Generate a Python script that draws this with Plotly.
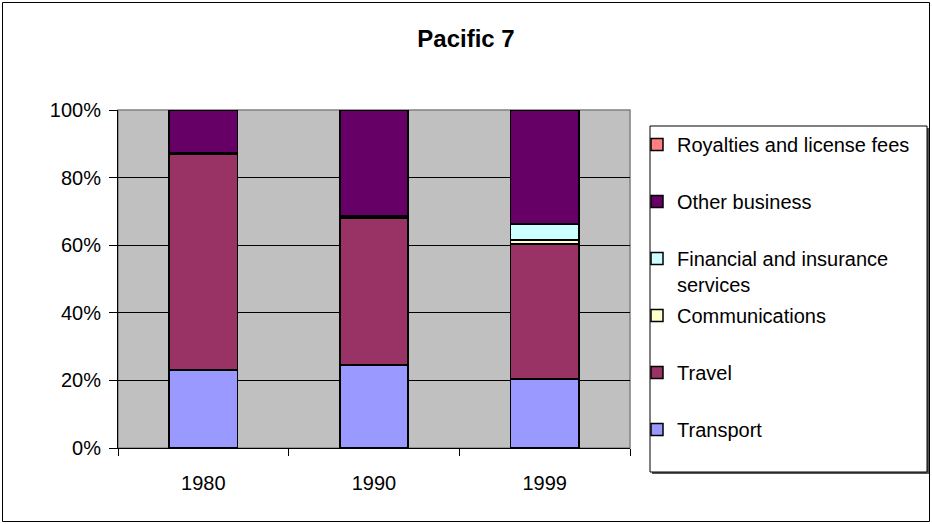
import plotly.graph_objs as go

years = ['1980', '1990', '1999']

transport = [23.1, 24.5, 20.4]
travel = [63.7, 43.4, 40.0]
communications = [0.3, 0.4, 1.2]
financial = [0.3, 0.3, 4.6]
other_business = [12.4, 31.2, 33.6]
royalties = [0.2, 0.2, 0.2]

y_ticks = [0, 20, 40, 60, 80, 100]
y_labels = ['0%', '20%', '40%', '60%', '80%', '100%']

# page geometry (pixels)
W, H = 932, 524
L, R, T, B = 118, 302, 110, 76
pw = W - L - R
ph = H - T - B


def fx(x):
    return (x - L) / pw


def fy(y):
    return (H - B - y) / ph


series = [
    ('Transport', transport, '#9999FF'),
    ('Travel', travel, '#993366'),
    ('Communications', communications, '#FFFFCC'),
    ('Financial and insurance<br>services', financial, '#CCFFFF'),
    ('Other business', other_business, '#660066'),
    ('Royalties and license fees', royalties, '#FF8080'),
]

fig = go.Figure()
for i, (name, vals, col) in enumerate(series):
    # every legend entry gets two lines so they are spaced evenly
    label = name if '<br>' in name else name + '<br> '
    fig.add_trace(go.Bar(
        x=years, y=vals, name=label, legendgroup=name,
        legendrank=len(series) - i,
        marker=dict(color=col, line=dict(color='black', width=1.5)),
    ))

fnt = 'Liberation Sans, Arial, sans-serif'

shapes = [
    # plot area border
    dict(type='rect', xref='paper', yref='paper', x0=0, x1=1, y0=0, y1=1,
         line=dict(color='#808080', width=1.5), layer='between'),
    # outer chart border
    dict(type='rect', xref='paper', yref='paper',
         x0=fx(2.5), x1=fx(929.5), y0=fy(521.5), y1=fy(2.5),
         line=dict(color='black', width=1)),
    # legend shadow + box
    dict(type='rect', xref='paper', yref='paper',
         x0=fx(652), x1=fx(929), y0=fy(474), y1=fy(128),
         line=dict(width=0), fillcolor='#555555'),
    dict(type='rect', xref='paper', yref='paper',
         x0=fx(650), x1=fx(927), y0=fy(472), y1=fy(126),
         line=dict(color='black', width=1), fillcolor='white'),
]

fig.update_layout(
    width=W, height=H,
    margin=dict(l=L, r=R, t=T, b=B, autoexpand=False),
    barmode='stack', barnorm='percent', bargap=0.6,
    paper_bgcolor='white', plot_bgcolor='#C0C0C0',
    font=dict(family=fnt, size=20, color='black'),
    title=dict(text='<b>Pacific 7</b>', x=0.5, xref='container', xanchor='center',
               y=1 - 39 / H, yref='container', yanchor='middle',
               font=dict(family=fnt, size=24, color='black')),
    xaxis=dict(showgrid=False, showline=True, linecolor='black', linewidth=1,
               ticks='outside', tickson='boundaries', ticklen=7, tickcolor='black',
               ticklabelstandoff=17, fixedrange=True),
    yaxis=dict(range=[0, 100], tickmode='array', tickvals=y_ticks, ticktext=y_labels,
               showgrid=True, gridcolor='black', gridwidth=1, zeroline=False,
               showline=True, linecolor='black', linewidth=1,
               ticks='outside', ticklen=8, tickcolor='black',
               ticklabelstandoff=4, fixedrange=True),
    legend=dict(x=fx(637), y=fy(125), xanchor='left', yanchor='top',
                traceorder='grouped', tracegroupgap=2, valign='top',
                maxheight=480,
                bgcolor='rgba(0,0,0,0)', borderwidth=0,
                font=dict(family=fnt, size=20, color='black')),
    shapes=shapes,
)

fig.write_html('out.html', config={'displayModeBar': False},
               post_script="document.body.style.margin='0';")
